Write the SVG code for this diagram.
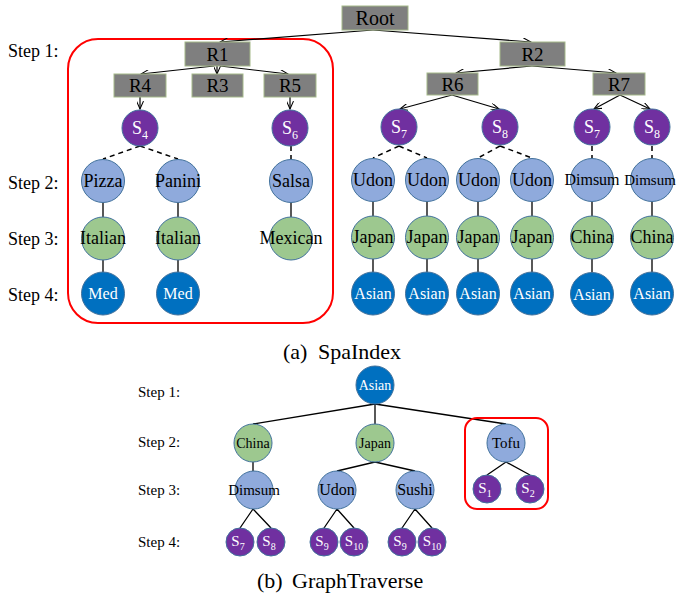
<svg xmlns="http://www.w3.org/2000/svg" width="678" height="599" viewBox="0 0 678 599">
<style>
text{font-family:"Liberation Serif","Times New Roman",serif;}
.box{fill:#7f7f7f;stroke:#a5b98a;stroke-width:1;}
.bl{font-size:19px;fill:#000;text-anchor:middle;}
.s{fill:#7030a0;stroke:#41719c;stroke-width:1;}
.lb{fill:#8faadc;stroke:#41719c;stroke-width:1;}
.gr{fill:#9dc88f;stroke:#41719c;stroke-width:1;}
.db{fill:#0070c0;stroke:#41719c;stroke-width:1;}
.t{font-size:18px;fill:#000;text-anchor:middle;}
.tw{font-size:16px;fill:#fff;text-anchor:middle;}
.ts{font-size:18px;fill:#fff;text-anchor:middle;}
.tb{font-size:14px;fill:#000;text-anchor:middle;}
.tbw{font-size:14px;fill:#fff;text-anchor:middle;}
.tbs{font-size:15px;fill:#fff;text-anchor:middle;}
.step{font-size:18px;fill:#000;}
.stepb{font-size:15px;fill:#000;}
.cap{font-size:22px;fill:#000;}
.ln{stroke:#000;stroke-width:1.3;fill:none;}
.ar{stroke:#000;stroke-width:1.2;fill:none;marker-end:url(#arr);}
.da{stroke:#000;stroke-width:1.5;fill:none;stroke-dasharray:5,4;}
.red{fill:none;stroke:#ff0000;stroke-width:2;}
</style>
<defs>
<marker id="arr" viewBox="0 0 10 8" refX="9" refY="4" markerWidth="9" markerHeight="7" markerUnits="userSpaceOnUse" orient="auto">
<path d="M0,0 L9,4 L0,8" fill="none" stroke="#000" stroke-width="1.2"/>
</marker>
</defs>

<!-- step labels -->
<text class="step" x="8" y="57">Step 1:</text>
<text class="step" x="8" y="189">Step 2:</text>
<text class="step" x="8" y="245">Step 3:</text>
<text class="step" x="8" y="301">Step 4:</text>

<rect class="red" x="68" y="39" width="265" height="284" rx="30"/>

<g id="connectors">
<line class="ar" x1="373" y1="30" x2="220" y2="42"/>
<line class="ar" x1="373" y1="30" x2="531" y2="42"/>
<line class="ar" x1="214" y1="66" x2="141" y2="74"/>
<line class="ar" x1="217" y1="66" x2="217" y2="74"/>
<line class="ar" x1="220" y1="66" x2="288" y2="74"/>
<line class="ar" x1="140" y1="97" x2="140" y2="109"/>
<line class="ar" x1="290" y1="97" x2="290" y2="109"/>
<line class="ar" x1="532" y1="66" x2="456" y2="73"/>
<line class="ar" x1="532" y1="66" x2="616" y2="73"/>
<line class="ar" x1="452" y1="95" x2="400" y2="109"/>
<line class="ar" x1="452" y1="95" x2="499" y2="109"/>
<line class="ar" x1="620" y1="95" x2="594" y2="109"/>
<line class="ar" x1="620" y1="95" x2="650" y2="109"/>
<!-- dashed -->
<line class="da" x1="140" y1="146" x2="103" y2="159"/>
<line class="da" x1="140" y1="146" x2="178" y2="159"/>
<line class="da" x1="291" y1="146" x2="291" y2="159"/>
<line class="da" x1="399" y1="146" x2="373" y2="158"/>
<line class="da" x1="399" y1="146" x2="427" y2="158"/>
<line class="da" x1="500" y1="146" x2="478" y2="158"/>
<line class="da" x1="500" y1="146" x2="532" y2="158"/>
<line class="da" x1="592" y1="146" x2="592" y2="158"/>
<line class="da" x1="652" y1="146" x2="652" y2="158"/>
<!-- solid verticals -->
<path class="ln" d="M103,203V217M103,260V272M178,203V217M178,260V272M291,203V217M373,202V216M373,259V272M427,202V216M427,259V272M478,202V216M478,259V272M532,202V216M532,259V272M592,202V216M592,259V272M652,202V216M652,259V272"/>
<!-- part b -->
<path class="ln" d="M375,404L253,424M375,404V424M375,404L506,424M253,462V471M375,462L337,471M375,462L415,471M506,462L487,475M506,462L530,475M253,509L240,528M253,509L271,528M337,509L324,528M337,509L354,528M415,509L402,528M415,509L432,528"/>
</g>

<!-- boxes -->
<g id="root"><rect class="box" x="342" y="6" width="66" height="24"/><text class="bl" x="375" y="25" style="font-size:20px">Root</text></g>
<g id="r1"><rect class="box" x="185" y="42" width="65" height="24"/><text class="bl" x="217.5" y="61">R1</text></g>
<g id="r2"><rect class="box" x="500" y="42" width="65" height="24"/><text class="bl" x="532.5" y="61">R2</text></g>
<g id="r4"><rect class="box" x="114" y="74" width="52" height="23"/><text class="bl" x="140" y="92">R4</text></g>
<g id="r3"><rect class="box" x="192" y="74" width="51" height="23"/><text class="bl" x="217.5" y="92">R3</text></g>
<g id="r5"><rect class="box" x="264" y="74" width="52" height="23"/><text class="bl" x="290" y="92">R5</text></g>
<g id="r6"><rect class="box" x="427" y="73" width="51" height="22"/><text class="bl" x="452.5" y="91">R6</text></g>
<g id="r7"><rect class="box" x="593" y="73" width="52" height="22"/><text class="bl" x="619" y="91">R7</text></g>

<!-- S nodes top -->
<g id="s4"><circle class="s" cx="140" cy="128" r="18"/><text class="ts" x="140" y="134">S<tspan dy="5" style="font-size:12px">4</tspan></text></g>
<g id="s6"><circle class="s" cx="290" cy="128" r="18"/><text class="ts" x="290" y="134">S<tspan dy="5" style="font-size:12px">6</tspan></text></g>
<g id="s7a"><circle class="s" cx="399" cy="127" r="18"/><text class="ts" x="399" y="133">S<tspan dy="5" style="font-size:12px">7</tspan></text></g>
<g id="s8a"><circle class="s" cx="500" cy="127" r="18"/><text class="ts" x="500" y="133">S<tspan dy="5" style="font-size:12px">8</tspan></text></g>
<g id="s7b"><circle class="s" cx="592" cy="127" r="18"/><text class="ts" x="592" y="133">S<tspan dy="5" style="font-size:12px">7</tspan></text></g>
<g id="s8b"><circle class="s" cx="652" cy="127" r="18"/><text class="ts" x="652" y="133">S<tspan dy="5" style="font-size:12px">8</tspan></text></g>

<!-- step 2 -->
<g id="pizza"><circle class="lb" cx="103" cy="181" r="21.5"/><text class="t" x="103" y="187">Pizza</text></g>
<g id="panini"><circle class="lb" cx="178" cy="181" r="21.5"/><text class="t" x="178" y="187">Panini</text></g>
<g id="salsa"><circle class="lb" cx="291" cy="181" r="21.5"/><text class="t" x="291" y="187">Salsa</text></g>
<g id="udon1"><circle class="lb" cx="373" cy="180" r="21.5"/><text class="t" x="373" y="186">Udon</text></g>
<g id="udon2"><circle class="lb" cx="427" cy="180" r="21.5"/><text class="t" x="427" y="186">Udon</text></g>
<g id="udon3"><circle class="lb" cx="478" cy="180" r="21.5"/><text class="t" x="478" y="186">Udon</text></g>
<g id="udon4"><circle class="lb" cx="532" cy="180" r="21.5"/><text class="t" x="532" y="186">Udon</text></g>
<g id="dimsum1"><circle class="lb" cx="592" cy="180" r="21.5"/><text class="t" x="592" y="185" style="font-size:16px">Dimsum</text></g>
<g id="dimsum2"><circle class="lb" cx="652" cy="180" r="21.5"/><text class="t" x="650" y="185" style="font-size:15px">Dimsum</text></g>

<!-- step 3 -->
<g id="italian1"><circle class="gr" cx="103" cy="238.5" r="21.5"/><text class="t" x="103" y="244">Italian</text></g>
<g id="italian2"><circle class="gr" cx="178" cy="238.5" r="21.5"/><text class="t" x="178" y="244">Italian</text></g>
<g id="mexican"><circle class="gr" cx="291" cy="238.5" r="21.5"/><text class="t" x="291" y="244">Mexican</text></g>
<g id="japan1"><circle class="gr" cx="373" cy="237.5" r="21.5"/><text class="t" x="373" y="243">Japan</text></g>
<g id="japan2"><circle class="gr" cx="427" cy="237.5" r="21.5"/><text class="t" x="427" y="243">Japan</text></g>
<g id="japan3"><circle class="gr" cx="478" cy="237.5" r="21.5"/><text class="t" x="478" y="243">Japan</text></g>
<g id="japan4"><circle class="gr" cx="532" cy="237.5" r="21.5"/><text class="t" x="532" y="243">Japan</text></g>
<g id="china1"><circle class="gr" cx="592" cy="237.5" r="21.5"/><text class="t" x="592" y="243">China</text></g>
<g id="china2"><circle class="gr" cx="652" cy="237.5" r="21.5"/><text class="t" x="652" y="243">China</text></g>

<!-- step 4 -->
<g id="med1"><circle class="db" cx="103" cy="293.5" r="21.5"/><text class="tw" x="103" y="299">Med</text></g>
<g id="med2"><circle class="db" cx="178" cy="293.5" r="21.5"/><text class="tw" x="178" y="299">Med</text></g>
<g id="asian1"><circle class="db" cx="373" cy="293.5" r="21.5"/><text class="tw" x="373" y="299">Asian</text></g>
<g id="asian2"><circle class="db" cx="427" cy="293.5" r="21.5"/><text class="tw" x="427" y="299">Asian</text></g>
<g id="asian3"><circle class="db" cx="478" cy="293.5" r="21.5"/><text class="tw" x="478" y="299">Asian</text></g>
<g id="asian4"><circle class="db" cx="532" cy="293.5" r="21.5"/><text class="tw" x="532" y="299">Asian</text></g>
<g id="asian5"><circle class="db" cx="592" cy="294" r="21.5"/><text class="tw" x="592" y="300">Asian</text></g>
<g id="asian6"><circle class="db" cx="652" cy="293.5" r="21.5"/><text class="tw" x="652" y="299">Asian</text></g>

<text class="cap" x="283" y="359">(a)</text>
<text class="cap" x="318" y="359">SpaIndex</text>

<!-- part b -->
<text class="stepb" x="138" y="397">Step 1:</text>
<text class="stepb" x="138" y="447">Step 2:</text>
<text class="stepb" x="138" y="495">Step 3:</text>
<text class="stepb" x="138" y="547">Step 4:</text>

<rect class="red" x="465" y="418" width="83" height="91" rx="12"/>

<g id="b-asian"><circle class="db" cx="375" cy="385" r="19"/><text class="tbw" x="375" y="390">Asian</text></g>
<g id="b-china"><circle class="gr" cx="253" cy="443" r="19"/><text class="tb" x="253" y="448">China</text></g>
<g id="b-japan"><circle class="gr" cx="375" cy="443" r="19"/><text class="tb" x="375" y="448">Japan</text></g>
<g id="b-tofu"><circle class="lb" cx="506" cy="443" r="19"/><text class="tb" x="506" y="448" style="font-size:15px">Tofu</text></g>
<g id="b-dimsum"><circle class="lb" cx="254" cy="490" r="19"/><text class="tb" x="254" y="495" style="font-size:15px">Dimsum</text></g>
<g id="b-udon"><circle class="lb" cx="337" cy="490" r="19"/><text class="tb" x="337" y="495" style="font-size:16px">Udon</text></g>
<g id="b-sushi"><circle class="lb" cx="415" cy="490" r="19"/><text class="tb" x="415" y="495" style="font-size:16px">Sushi</text></g>
<g id="b-s1"><circle class="s" cx="487" cy="489" r="14"/><text class="tbs" x="485" y="493">S<tspan dy="4" style="font-size:10px">1</tspan></text></g>
<g id="b-s2"><circle class="s" cx="530" cy="489" r="14"/><text class="tbs" x="528" y="493">S<tspan dy="4" style="font-size:10px">2</tspan></text></g>
<g id="b-s7"><circle class="s" cx="240" cy="542" r="14"/><text class="tbs" x="238" y="546">S<tspan dy="4" style="font-size:10px">7</tspan></text></g>
<g id="b-s8"><circle class="s" cx="271" cy="542" r="14"/><text class="tbs" x="269" y="546">S<tspan dy="4" style="font-size:10px">8</tspan></text></g>
<g id="b-s9a"><circle class="s" cx="324" cy="542" r="14"/><text class="tbs" x="322" y="546">S<tspan dy="4" style="font-size:10px">9</tspan></text></g>
<g id="b-s10a"><circle class="s" cx="354" cy="542" r="14"/><text class="tbs" x="354" y="546">S<tspan dy="4" style="font-size:10px">10</tspan></text></g>
<g id="b-s9b"><circle class="s" cx="402" cy="542" r="14"/><text class="tbs" x="400" y="546">S<tspan dy="4" style="font-size:10px">9</tspan></text></g>
<g id="b-s10b"><circle class="s" cx="432" cy="542" r="14"/><text class="tbs" x="432" y="546">S<tspan dy="4" style="font-size:10px">10</tspan></text></g>

<text class="cap" x="257" y="588">(b)</text>
<text class="cap" x="292" y="588">GraphTraverse</text>
</svg>
